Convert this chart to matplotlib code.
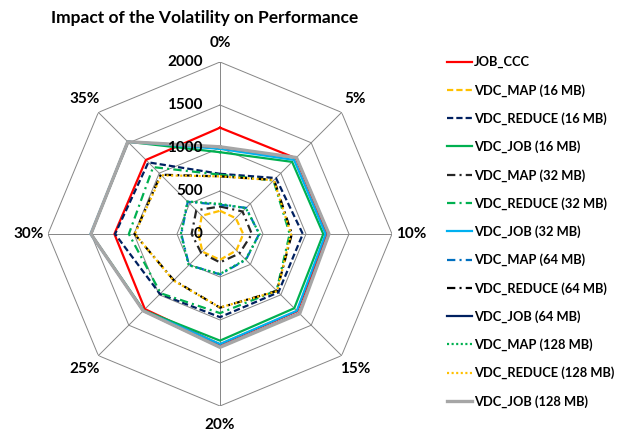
import matplotlib
matplotlib.use("Agg")
import matplotlib.pyplot as plt
import numpy as np

plt.rcParams['font.family'] = ['Lato', 'DejaVu Sans']
plt.rcParams['font.weight'] = 'bold'
plt.rcParams['lines.scale_dashes'] = False

categories = ['0%', '5%', '10%', '15%', '20%', '25%', '30%', '35%']
radial_ticks = [0, 500, 1000, 1500, 2000]

job_ccc = [1236, 1246, 1248, 1270, 1285, 1235, 1228, 1218]
map_16 = [270, 260, 270, 270, 300, 290, 250, 300]
reduce_16 = [700, 920, 963, 960, 967, 987, 1220, 1178]
job_16 = [951, 1186, 1201, 1221, 1240, 1255, 1500, 1517]
map_32 = [320, 370, 370, 320, 330, 310, 330, 390]
reduce_32 = [690, 880, 810, 930, 920, 975, 1060, 1100]
job_32 = [990, 1218, 1228, 1263, 1279, 1260, 1505, 1517]
map_64 = [340, 430, 455, 425, 470, 510, 450, 530]
reduce_64 = [670, 890, 835, 935, 857, 760, 994, 975]
job_64 = [1010, 1255, 1265, 1305, 1315, 1263, 1500, 1517]
map_128 = [350, 425, 460, 420, 465, 515, 455, 535]
reduce_128 = [670, 885, 825, 940, 855, 765, 990, 965]
job_128 = [1014, 1257, 1267, 1310, 1318, 1263, 1501, 1517]

dashdot = (0, (6, 3, 1.5, 3))
dotted = (0, (1.5, 1.8))
dashed = (0, (4.5, 2.2))

# (label, values, colour, linestyle, width)
series = [
    ('JOB_CCC', job_ccc, '#FF0000', '-', 1.6),
    ('VDC_MAP (16 MB)', map_16, '#FFC000', dashed, 1.6),
    ('VDC_REDUCE (16 MB)', reduce_16, '#002060', dashed, 1.6),
    ('VDC_JOB (16 MB)', job_16, '#00B050', '-', 1.6),
    ('VDC_MAP (32 MB)', map_32, '#262626', dashdot, 1.6),
    ('VDC_REDUCE (32 MB)', reduce_32, '#00B050', dashdot, 1.6),
    ('VDC_JOB (32 MB)', job_32, '#00B0F0', '-', 1.6),
    ('VDC_MAP (64 MB)', map_64, '#0070C0', dashdot, 1.6),
    ('VDC_REDUCE (64 MB)', reduce_64, '#000000', dashdot, 1.6),
    ('VDC_JOB (64 MB)', job_64, '#002060', '-', 1.6),
    ('VDC_MAP (128 MB)', map_128, '#00B050', dotted, 1.6),
    ('VDC_REDUCE (128 MB)', reduce_128, '#FFC000', dotted, 1.6),
    ('VDC_JOB (128 MB)', job_128, '#A6A6A6', '-', 2.4),
]

angles = np.linspace(0, 2 * np.pi, len(categories), endpoint=False)
closed = np.append(angles, angles[0])

fig = plt.figure(figsize=(6.26, 4.32), dpi=100)
ax = fig.add_axes([48 / 626, 26 / 432, 344 / 626, 344 / 432], projection='polar')
ax.set_theta_zero_location('N')
ax.set_theta_direction(-1)
ax.set_ylim(0, 2000)
ax.grid(False)
ax.spines['polar'].set_visible(False)
ax.set_yticks([])

# octagonal grid
for r in radial_ticks[1:]:
    ax.plot(closed, [r] * len(closed), color='#868686', lw=0.7, zorder=1)
for a in angles:
    ax.plot([a, a], [0, 2000], color='#868686', lw=0.7, zorder=1)

handles = []
for label, vals, color, ls, lw in series:
    line, = ax.plot(closed, vals + vals[:1], color=color, linestyle=ls,
                    lw=lw, label=label, zorder=2)
    handles.append(line)

ax.set_xticks(angles)
ax.set_xticklabels(categories, fontsize=11, fontweight='bold')
ax.tick_params(axis='x', pad=7, length=0)

for r in radial_ticks:
    ax.annotate(str(r), xy=(0, r), xytext=(-12.5, 0), textcoords='offset points',
                ha='right', va='center', fontsize=11, fontweight='bold', zorder=5)

fig.text(205 / 626, 1 - 18 / 432, 'Impact of the Volatility on Performance',
         ha='center', va='center', fontsize=12.5, fontweight='bold')

fig.legend(handles=handles, loc='upper left', bbox_to_anchor=(442 / 626, 1 - 51 / 432),
           frameon=False, handlelength=1.95, handletextpad=0.15,
           labelspacing=1.2, borderaxespad=0, prop={'weight': 'bold', 'size': 9.3})

fig.savefig('out.png', dpi=100)
